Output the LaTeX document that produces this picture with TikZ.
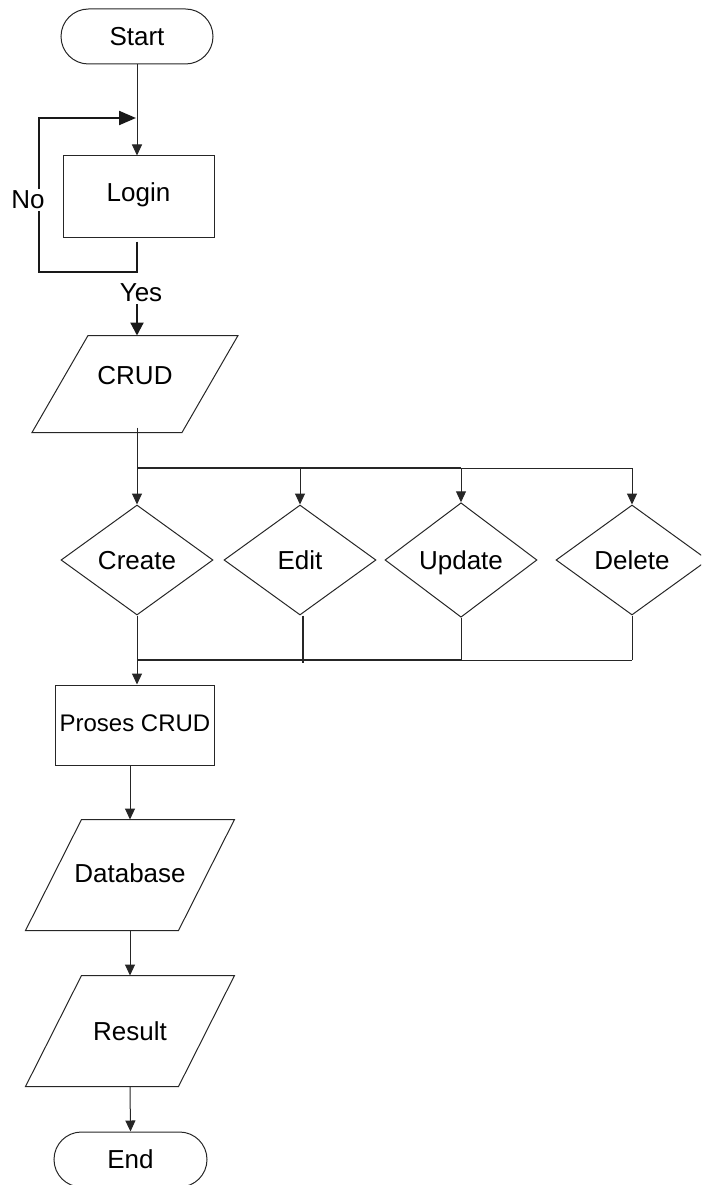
\documentclass[tikz,border=0pt]{standalone}
\usepackage{fontspec}
\setmainfont{Liberation Sans}
\usetikzlibrary{shapes.geometric,shapes.misc,arrows.meta}
\begin{document}
\begin{tikzpicture}[x=1pt,y=-1pt,
  outline/.style={draw=black!85, line width=1pt},
  base/.style={outline, font=\fontsize{26}{30}\selectfont, inner sep=0pt, text height=24.6pt, text depth=6pt},
  terminal/.style={base, rounded rectangle, minimum width=152pt, minimum height=55pt},
  process/.style={base, rectangle},
  io/.style={base, draw=none, rectangle, minimum width=152pt, minimum height=110pt},
  decision/.style={base, diamond, minimum width=152pt, minimum height=110pt},
  flow/.style={line width=1pt, draw=black!85, -{Triangle[length=11pt,width=10pt]}},
  link/.style={line width=1pt, draw=black!85},
  heavy/.style={line width=2.2pt, draw=black!90},
  lbl/.style={font=\fontsize{26}{30}\selectfont, inner sep=2pt}
]
\useasboundingbox (0,0) rectangle (701,1185);
\clip (0,0) rectangle (701,1185);

% main column
\node[terminal] (start) at (137,36.5) {Start};
\node[process, minimum width=151pt, minimum height=81pt] (login) at (138.5,196.5) {\raisebox{4pt}{Login}};
\node[io, minimum width=149pt, minimum height=96pt] (crud) at (135,384) {\raisebox{9pt}{CRUD}};

% CRUD choices
\node[decision] (create) at (137,560) {Create};
\node[decision] (edit)   at (300,560) {Edit};
\node[decision] (update) at (461,560) {Update};
\node[decision] (delete) at (632,560) {Delete};

\node[process, minimum width=158.6pt, minimum height=80pt, font=\fontsize{24}{28}\selectfont] (proses) at (135,725) {\raisebox{3pt}{Proses CRUD}};
\node[io] (database) at (130,875) {\raisebox{2pt}{Database}};
\node[io] (result) at (130,1031) {Result};
\node[terminal, minimum width=153pt] (end) at (130.5,1159.5) {End};

% slanted input/output outlines around the io nodes
\foreach \n in {crud,database,result}
  \draw[outline] ([xshift=28pt]\n.north west) -- ([xshift=28pt]\n.north east)
                 -- ([xshift=-28pt]\n.south east) -- ([xshift=-28pt]\n.south west) -- cycle;

% start to login
\draw[flow] (start.south) -- (start.south |- login.north);

% login retry loop
\coordinate (loopSE) at (137,272);
\coordinate (loopSW) at (39,272);
\coordinate (loopNW) at (39,118);
\coordinate (loopNE) at (136,118);
\draw[heavy, -{Triangle[length=17pt,width=14pt]}]
  ([yshift=-4pt]login.south -| loopSE) -- (loopSE) -- (loopSW) -- (loopNW) -- (loopNE);
\node[lbl, fill=white] (no) at (28,200) {No};
\node[lbl] (yes) at (141,293) {Yes};

% fan out to the four operations
\coordinate (bus) at (137,468);
\draw[heavy, -{Triangle[length=13pt,width=13pt]}] (bus |- yes.south) -- (bus |- crud.north);
\draw[link] ([yshift=5pt]bus |- crud.south) -- (bus);
\draw[link, line width=1.4pt] (bus) -- (bus -| update.north);
\draw[link] (bus -| update.north) -- (bus -| delete.north);
\foreach \op in {create,edit,update,delete}
  \draw[flow] (bus -| \op.north) -- (\op.north);

% gather back into processing
\coordinate (merge) at (137,660);
\draw[link] (create.south) -- (merge);
\draw[link, line width=1.4pt] ([xshift=3pt]edit.south) -- ([xshift=3pt,yshift=-3pt]merge -| edit.south);
\draw[link] (update.south) -- (merge -| update.south);
\draw[link] (delete.south) -- (merge -| delete.south);
\draw[link, line width=1.3pt] (merge) -- (merge -| update.south);
\draw[link] (merge -| update.south) -- (merge -| delete.south);
\draw[flow] (merge) -- (merge |- proses.north);

% lower column
\draw[flow] (proses.south -| database.north) -- (database.north);
\draw[flow] (database.south) -- (result.north);
\draw[flow] (result.south) -- (end.north);
\end{tikzpicture}
\end{document}
